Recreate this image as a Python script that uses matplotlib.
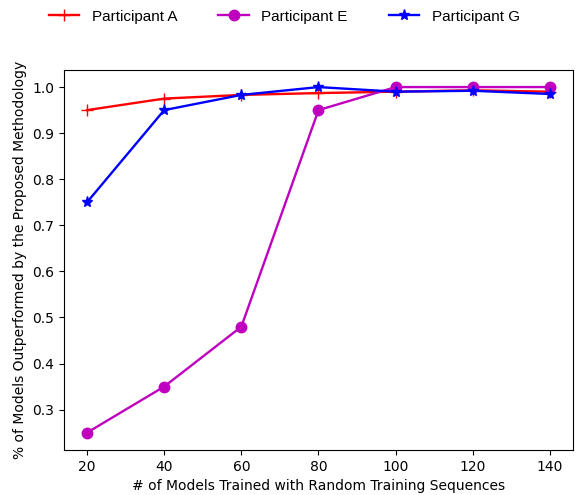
import matplotlib
matplotlib.use("Agg")
import matplotlib.pyplot as plt

# Data
num_models = [20, 40, 60, 80, 100, 120, 140]
participant_a = [0.95, 0.975, 0.983, 0.987, 0.99, 0.993, 0.99]
participant_e = [0.25, 0.35, 0.48, 0.95, 1.0, 1.0, 1.0]
participant_g = [0.75, 0.95, 0.983, 1.0, 0.99, 0.992, 0.985]

fig = plt.figure(figsize=(5.86, 4.95), dpi=100)
ax = fig.add_axes([0.109, 0.091, 0.869, 0.768])

ax.plot(num_models, participant_a, color="r", marker="+", markersize=8, linewidth=1.7, label="Participant A")
ax.plot(num_models, participant_e, color="m", marker="o", markersize=7.5, linewidth=1.7, label="Participant E")
ax.plot(num_models, participant_g, color="b", marker="*", markersize=8, linewidth=1.7, label="Participant G")

ax.set_xlabel("# of Models Trained with Random Training Sequences")
ax.set_ylabel("% of Models Outperformed by the Proposed Methodology")
ax.set_xticks(num_models)

fig.legend(loc="center", bbox_to_anchor=(0.485, 0.966), ncol=3, frameon=False,
           prop={"family": "Liberation Sans", "size": 11}, columnspacing=2.7)

fig.savefig("out.png", dpi=100)
